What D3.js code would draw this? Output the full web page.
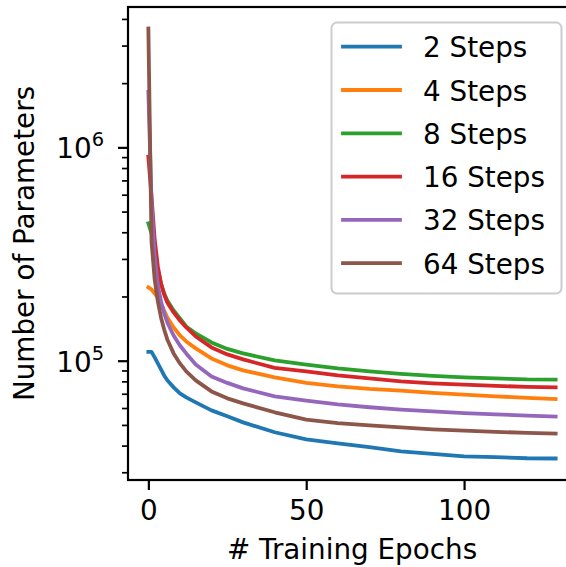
<!DOCTYPE html>
<html>
<head>
<meta charset="utf-8">
<script src="https://cdn.jsdelivr.net/npm/d3@7"></script>
<style>
  body { margin: 0; background: #fff; }
  svg { display: block; font-family: "DejaVu Sans", sans-serif; }
</style>
</head>
<body>
<div id="container"></div>
<script>
var epochs = [0, 1, 2, 3, 4, 5, 6, 8, 10, 12, 15, 20, 25, 30, 40, 50, 60, 70, 80, 90, 100, 110, 120, 129];

// number of parameters per run
var steps2  = [110000, 110000, 103600, 97100, 91000, 85300, 80900, 75000, 70300, 67300, 63800, 58500, 54900, 51400, 46200, 42800, 41000, 39300, 37600, 36600, 35600, 35300, 34900, 34800];
var steps4  = [220400, 215700, 206600, 197900, 185400, 172000, 159500, 143200, 131300, 123100, 114200, 102500, 95100, 90100, 83500, 78700, 75800, 73800, 72400, 70700, 69300, 68100, 67000, 66100];
var steps8  = [440800, 394500, 324900, 267500, 230100, 206600, 191600, 172000, 157800, 144700, 134200, 121800, 113600, 108200, 100300, 95800, 92000, 89100, 86700, 84900, 83500, 82600, 81700, 81500];
var steps16 = [904700, 587700, 369800, 276400, 230100, 204400, 187500, 168400, 154400, 143200, 129900, 115400, 107000, 101400, 92500, 89100, 85300, 82600, 80000, 78300, 77200, 76200, 75400, 75000];
var steps32 = [1823000, 556800, 307800, 225200, 189500, 166500, 151100, 131300, 117900, 108200, 96100, 84400, 78700, 74200, 68100, 65000, 62400, 60500, 59000, 57900, 56800, 56000, 55300, 54700];
var steps64 = [3607000, 361800, 240200, 189500, 159500, 140100, 125800, 108200, 97100, 89100, 80900, 71800, 66600, 63100, 57300, 52900, 51000, 49800, 48700, 47700, 47000, 46400, 45900, 45500];

var seriesNames = ["2 Steps", "4 Steps", "8 Steps", "16 Steps", "32 Steps", "64 Steps"];
var seriesValues = [steps2, steps4, steps8, steps16, steps32, steps64];
var xTicks = [0, 50, 100];
var yMajor = [1e5, 1e6];
var yMajorExp = ["5", "6"];

var colors = ["#1f77b4", "#ff7f0e", "#2ca02c", "#d62728", "#9467bd", "#8c564b"];

var w = 566, h = 567;
var fs = 27.8;
var box = {left: 128, right: 576, top: 7, bottom: 480};

var svg = d3.select("div#container")
  .append("svg")
  .attr("width", w)
  .attr("height", h)
  .attr("viewBox", `0 0 ${w} ${h}`);

svg.append("rect").attr("width", w).attr("height", h).attr("fill", "#fff");

// scales with matplotlib-like 5% margins
var xMax = d3.max(epochs);
var xPad = 0.05 * xMax;
var x = d3.scaleLinear()
  .domain([-xPad, xMax + xPad])
  .range([box.left, box.right]);

var allVals = seriesValues.flat();
var lmin = Math.log10(d3.min(allVals)), lmax = Math.log10(d3.max(allVals));
var lpad = 0.05 * (lmax - lmin);
var y = d3.scaleLog()
  .domain([Math.pow(10, lmin - lpad), Math.pow(10, lmax + lpad)])
  .range([box.bottom, box.top]);

svg.append("clipPath").attr("id", "clip")
  .append("rect")
  .attr("x", box.left).attr("y", box.top)
  .attr("width", box.right - box.left).attr("height", box.bottom - box.top);

// lines
var line = d3.line()
  .x(function(d, i) { return x(epochs[i]); })
  .y(function(d) { return y(d); });

var lines = svg.append("g").attr("clip-path", "url(#clip)");
seriesValues.forEach(function(vals, i) {
  lines.append("path")
    .attr("d", line(vals))
    .attr("fill", "none")
    .attr("stroke", colors[i])
    .attr("stroke-width", 3.8)
    .attr("stroke-linejoin", "round")
    .attr("stroke-linecap", "square");
});

// x axis
var xAxis = svg.append("g")
  .attr("transform", `translate(0,${box.bottom})`)
  .call(d3.axisBottom(x).tickValues(xTicks).tickSize(10).tickPadding(10).tickFormat(d3.format("d")));
xAxis.select(".domain").remove();
xAxis.selectAll(".tick line").attr("stroke", "#000").attr("stroke-width", 2.2);
xAxis.selectAll(".tick text")
  .attr("font-size", fs).attr("fill", "#000")
  .attr("font-family", "DejaVu Sans");

// y minor ticks
var yMinor = [];
[1e4, 1e5, 1e6].forEach(function(dec) {
  for (var k = 2; k <= 9; k++) {
    var v = k * dec;
    if (v > y.domain()[0] && v < y.domain()[1]) yMinor.push(v);
  }
});
var yMinorAxis = svg.append("g")
  .attr("transform", `translate(${box.left},0)`)
  .call(d3.axisLeft(y).tickValues(yMinor).tickSize(6).tickFormat(""));
yMinorAxis.select(".domain").remove();
yMinorAxis.selectAll(".tick line").attr("stroke", "#000").attr("stroke-width", 1.7);

// y major ticks
var yAxis = svg.append("g")
  .attr("transform", `translate(${box.left},0)`)
  .call(d3.axisLeft(y).tickValues(yMajor).tickSize(10).tickFormat(""));
yAxis.select(".domain").remove();
yAxis.selectAll(".tick line").attr("stroke", "#000").attr("stroke-width", 2.2);

yMajor.forEach(function(v, i) {
  var t = svg.append("text")
    .attr("x", box.left - 24)
    .attr("y", y(v) + 11)
    .attr("text-anchor", "end")
    .attr("font-size", fs)
    .attr("fill", "#000");
  t.append("tspan").text("10");
  t.append("tspan")
    .attr("font-size", fs * 0.7)
    .attr("dy", -12)
    .text(yMajorExp[i]);
});

// spines (right spine falls outside the canvas, as in the source)
var spines = svg.append("g").attr("stroke", "#000").attr("stroke-width", 2.2).attr("fill", "none");
spines.append("rect")
  .attr("x", box.left).attr("y", box.top)
  .attr("width", box.right - box.left).attr("height", box.bottom - box.top);

// axis labels
svg.append("text")
  .attr("x", (box.left + box.right) / 2)
  .attr("y", 559)
  .attr("text-anchor", "middle")
  .attr("font-size", fs)
  .attr("fill", "#000")
  .text("# Training Epochs");

svg.append("text")
  .attr("transform", `translate(33.5,${(box.top + box.bottom) / 2}) rotate(-90)`)
  .attr("text-anchor", "middle")
  .attr("font-size", fs)
  .attr("fill", "#000")
  .text("Number of Parameters");

// legend
var legend = svg.append("g");
legend.append("rect")
  .attr("x", 331.5).attr("y", 22.5)
  .attr("width", 230).attr("height", 271)
  .attr("rx", 5.6)
  .attr("fill", "#fff").attr("fill-opacity", 0.8)
  .attr("stroke", "#cccccc").attr("stroke-width", 2);

seriesNames.forEach(function(name, i) {
  var ly = 46.7 + i * 43.3;
  legend.append("line")
    .attr("x1", 343).attr("x2", 400)
    .attr("y1", ly).attr("y2", ly)
    .attr("stroke", colors[i]).attr("stroke-width", 3.8)
    .attr("stroke-linecap", "square");
  legend.append("text")
    .attr("x", 423).attr("y", ly + 10.5)
    .attr("font-size", fs).attr("fill", "#000")
    .text(name);
});
</script>
</body>
</html>
